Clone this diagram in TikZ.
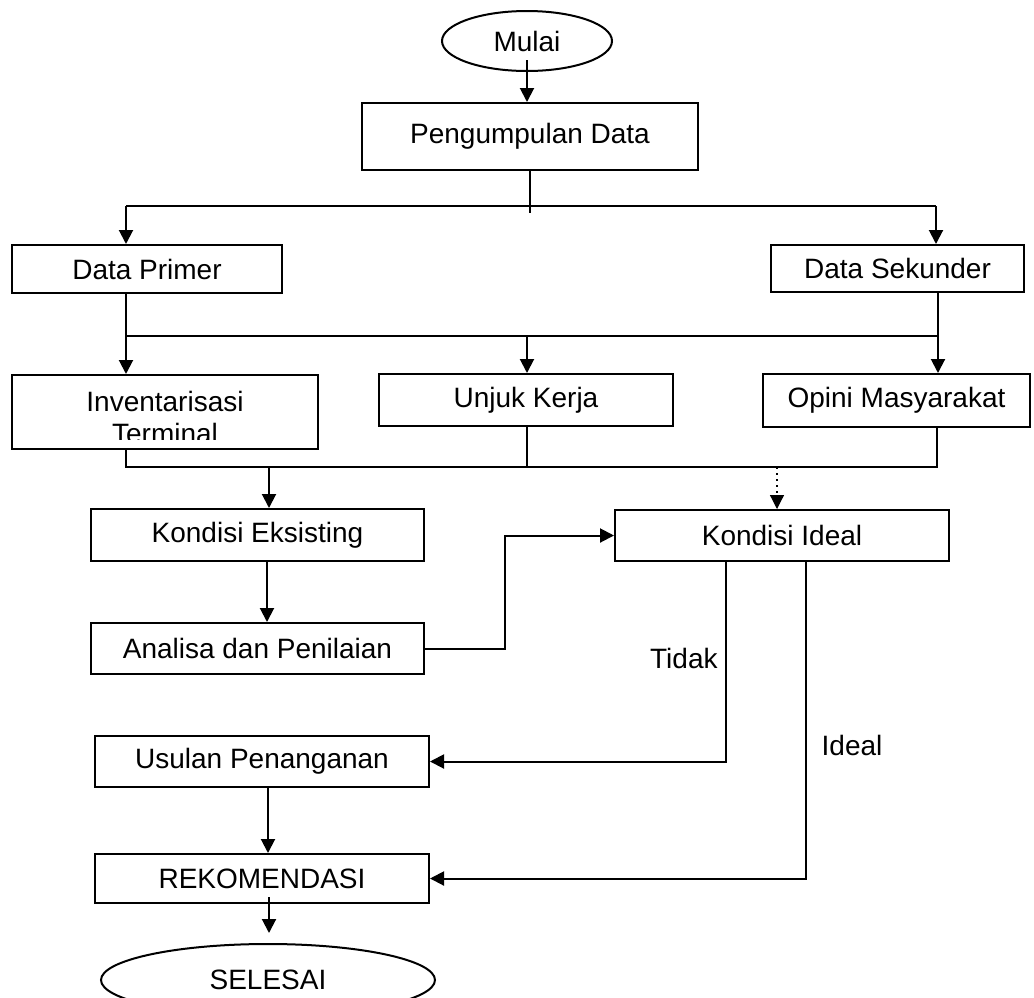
\documentclass[tikz,border=0pt]{standalone}
\usepackage{fontspec}
\setmainfont{Liberation Sans}
\usetikzlibrary{arrows.meta,shapes.geometric}
\begin{document}
\begin{tikzpicture}[
  x=0.5pt, y=-0.5pt,
  box/.style={draw=black, line width=1pt, rectangle, inner sep=0pt,
              font=\fontsize{14}{16}\selectfont},
  term/.style={box, ellipse},
  lbl/.style={font=\fontsize{14}{16}\selectfont, inner sep=0pt},
  conn/.style={line width=1pt, black},
  arr/.style={conn, -{Triangle[length=7pt, width=7pt]}},
  weak/.style={arr, dotted, line width=0.6pt},
]
% Fix bounding box to the page (SELESAI runs off the bottom)
\useasboundingbox (0,0) rectangle (1034,997);
% Start
\node[term, minimum width=85pt, minimum height=30pt] (mulai) at (527,41) {Mulai};
\node[box, minimum width=168pt, minimum height=33.5pt] (kumpul) at (530,136.5) {Pengumpulan Data};
% Data sources
\node[box, minimum width=135pt, minimum height=24pt] (primer) at (147,269) {Data Primer};
\node[box, minimum width=126.5pt, minimum height=23.5pt] (sekunder) at (897.5,268.5) {Data Sekunder};
% Survey row
\node[box, minimum width=153pt, minimum height=37pt] (invent) at (165,412) {};
\begin{scope}
  \clip (invent.north west) rectangle ([yshift=5.5pt]invent.south east);
  \node[lbl, align=center] (inventtxt) at (165,417) {Inventarisasi\\Terminal};
\end{scope}
\node[box, minimum width=147pt, minimum height=26pt] (unjuk) at (526,400) {Unjuk Kerja};
\node[box, minimum width=133.5pt, minimum height=26.5pt] (opini) at (896.5,400.5) {Opini Masyarakat};
% Conditions
\node[box, minimum width=166.5pt, minimum height=26pt] (eksis) at (257.5,535) {Kondisi Eksisting};
\node[box, minimum width=167pt, minimum height=25.5pt] (ideal) at (782,535.5) {Kondisi Ideal};
\node[box, minimum width=166.5pt, minimum height=25.5pt] (analisa) at (257.5,648.5) {Analisa dan Penilaian};
% Outcome
\node[box, minimum width=167pt, minimum height=25.5pt] (usulan) at (262,761.5) {Usulan Penanganan};
\node[box, minimum width=167pt, minimum height=24.5pt] (rekom) at (262,878.5) {REKOMENDASI};
\node[term, minimum width=167pt, minimum height=36pt] (selesai) at (268,980) {SELESAI};
% Branch labels
\node[lbl, anchor=east] (tidak) at (718,658) {Tidak};
\node[lbl] (ideallbl) at (852,745) {Ideal};
% Bus points
\coordinate (p1) at (126,206);
\coordinate (p2) at (936,206);
\coordinate (q1) at (126,336);
\coordinate (q2) at (527,336);
\coordinate (q3) at (938,336);
\coordinate (r1) at (126,467);
\coordinate (r2) at (527,467);
\coordinate (r3) at (937,467);
\coordinate (r4) at (269,467);
\coordinate (r5) at (777,467);
% Mulai -> Pengumpulan Data -> sources
\draw[arr] ([yshift=6pt]mulai.south) -- (mulai.south |- kumpul.north);
\draw[conn] (kumpul.south) -- ++(0,42);
\draw[conn] (p1) -- (p2);
\draw[arr] (p1) -- (p1 |- primer.north);
\draw[arr] (p2) -- (p2 |- sekunder.north);
% Sources -> survey row
\draw[arr] (q1 |- primer.south) -- (q1 |- invent.north);
\draw[conn] (q1) -- (q3);
\draw[arr] (q2) -- (q2 |- unjuk.north);
\draw[arr] (q3 |- sekunder.south) -- (q3 |- opini.north);
% Survey row -> conditions
\draw[conn] (r1 |- invent.south) -- (r1) -- (r3) -- (r3 |- opini.south);
\draw[conn] (r2 |- unjuk.south) -- (r2);
\draw[arr] (r4) -- (r4 |- eksis.north);
\draw[weak] (r5) -- (r5 |- ideal.north);
% Analysis loop
\draw[arr] ([xshift=4.75pt]eksis.south) -- ([xshift=4.75pt]analisa.north);
\draw[arr] (analisa.east) -- ++(80,0) |- (ideal.west);
% Decision branches
\draw[arr] ([xshift=-28pt]ideal.south) |- (usulan.east);
\draw[arr] ([xshift=12pt]ideal.south) |- (rekom.east);
% Finish
\draw[arr] ([xshift=3pt]usulan.south) -- ([xshift=3pt]rekom.north);
\draw[arr] ([xshift=3.5pt, yshift=3.5pt]rekom.south) -- ([xshift=0.5pt, yshift=5pt]selesai.north);
\end{tikzpicture}
\end{document}
